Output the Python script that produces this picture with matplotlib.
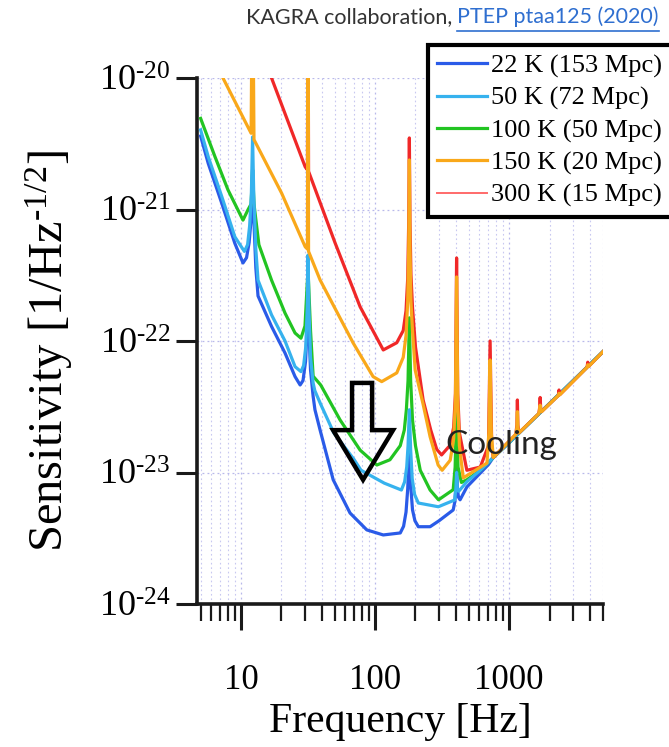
import matplotlib
matplotlib.use("Agg")
import matplotlib.pyplot as plt
from matplotlib.ticker import FixedLocator, NullLocator, FuncFormatter
from matplotlib.patches import Polygon
from matplotlib.lines import Line2D

plt.rcParams['font.family'] = ['Liberation Serif', 'DejaVu Serif']
plt.rcParams['mathtext.fontset'] = 'custom'
plt.rcParams['mathtext.rm'] = 'Liberation Serif'
plt.rcParams['mathtext.it'] = 'Liberation Serif:italic'
plt.rcParams['mathtext.bf'] = 'Liberation Serif:bold'

# ---------------- data ----------------
LABELS = ["22 K (153 Mpc)", "50 K (72 Mpc)", "100 K (50 Mpc)",
          "150 K (20 Mpc)", "300 K (15 Mpc)"]
COLORS = ["#2a5be8", "#36b2ee", "#22c422", "#f9a81a", "#f02828"]
LEGEND_COLORS = ["#2a5be8", "#36b2ee", "#22c422", "#f9a81a", "#ff6a6a"]

# common high-frequency (shot-noise) part
F_HF = [760, 1000, 2000, 5000]
H_HF = [1.3e-23, 1.69e-23, 3.35e-23, 8.3e-23]

F_22K = [5.0, 5.7, 7.2, 9.0, 10.35, 11.0, 11.5, 11.9, 12.2, 12.5, 12.9, 13.4,
         16.9, 21.3, 25.3, 27.6, 29.0, 30.3, 31.2, 31.6, 32.1, 33.0, 34.5,
         35.6, 38.9, 48.7, 65.0, 86.7, 115, 154, 163, 170, 175, 180, 185, 190,
         198, 210, 257, 300, 382, 393, 400, 405, 410, 418, 430, 483, 608, 700]
H_22K = [3.62e-21, 2.24e-21, 1.11e-21, 5.53e-22, 3.92e-22, 4.3e-22, 5.6e-22,
         8.5e-22, 2.0e-21, 8.0e-22, 3.6e-22, 2.2e-22, 1.29e-22, 8.1e-23,
         5.36e-23, 4.63e-23, 5.0e-23, 7.0e-23, 1.3e-22, 2.5e-22, 1.2e-22,
         6.0e-23, 3.8e-23, 3.0e-23, 2.1e-23, 8.8e-24, 4.92e-24, 3.66e-24,
         3.35e-24, 3.47e-24, 3.9e-24, 5.0e-24, 7.5e-24, 1.5e-23, 7.5e-24,
         5.2e-24, 4.3e-24, 3.87e-24, 3.87e-24, 4.3e-24, 5.19e-24, 6.0e-24,
         7.8e-24, 1.2e-23, 7.8e-24, 6.5e-24, 6.2e-24, 7.76e-24, 9.9e-24,
         1.15e-23]

F_50K = [5.0, 5.7, 7.2, 9.0, 10.6, 11.2, 11.6, 11.95, 12.2, 12.45, 12.9, 13.4,
         16.9, 21.3, 25.3, 28.0, 29.3, 30.4, 31.2, 31.6, 32.1, 33.0, 34.5,
         35.5, 39.3, 49.2, 69.5, 78.5, 117, 157, 166, 172, 176, 180, 184, 189,
         197, 210, 296, 392, 400, 405, 410, 420, 483, 608]
H_50K = [4.03e-21, 2.52e-21, 1.25e-21, 6.2e-22, 4.8e-22, 5.4e-22, 7.5e-22,
         1.3e-21, 3.56e-21, 1.3e-21, 5.0e-22, 2.9e-22, 1.58e-22, 1.0e-22,
         6.38e-23, 5.85e-23, 6.5e-23, 9.0e-23, 1.8e-22, 4.5e-22, 1.8e-22,
         7.5e-23, 4.8e-23, 4.2e-23, 3.3e-23, 2.0e-23, 1.26e-23, 1.04e-23,
         8.3e-24, 7.36e-24, 8.5e-24, 1.1e-23, 1.6e-23, 3.0e-23, 1.5e-23,
         9.0e-24, 6.8e-24, 5.86e-24, 5.49e-24, 6.18e-24, 7.5e-24, 1.0e-23,
         7.5e-24, 7.2e-24, 8.5e-24, 1.04e-23]

F_100K = [5.0, 6.4, 8.0, 10.35, 11.3, 11.9, 12.2, 12.5, 13.6, 16.9, 21.3,
          25.3, 28.0, 30.0, 31.6, 33.0, 34.5, 39.3, 54.8, 77.3, 103, 129, 154,
          165, 171, 176, 180, 184, 190, 200, 217, 257, 297, 382, 395, 405, 415,
          440, 483, 608]
H_100K = [4.93e-21, 2.52e-21, 1.41e-21, 8.3e-22, 1.0e-21, 1.1e-21, 2.0e-21,
          1.1e-21, 5.4e-22, 2.9e-22, 1.63e-22, 1.15e-22, 1.05e-22, 1.3e-22,
          3.5e-22, 1.2e-22, 5.4e-23, 4.63e-23, 2.51e-23, 1.48e-23, 1.14e-23,
          1.25e-23, 1.6e-23, 2.1e-23, 3.0e-23, 5.0e-23, 1.5e-22, 5.0e-23,
          2.5e-23, 1.6e-23, 1.04e-23, 7.36e-24, 6.2e-24, 7.4e-24, 1.1e-23,
          3.0e-23, 1.1e-23, 8.4e-24, 8.8e-24, 1.04e-23]

F_150K = [7.0, 11.9, 12.2, 12.5, 20.1, 30.1, 31.3, 31.6, 31.9, 38.9, 68.6,
          96.6, 112, 145, 162, 170, 175, 178, 180, 182, 185, 190, 199, 228,
          257, 295, 316, 363, 385, 397, 405, 413, 425, 454, 682, 705, 720, 735,
          760, 1120, 1140, 1150, 1160, 1180, 1660, 1685, 1700, 1715, 1740,
          2320, 2350, 2380, 3800, 3850, 3900, 5000]
H_150K = [1.1e-20, 3.8e-21, 1e-19, 3.4e-21, 1.33e-21, 5.21e-22, 5.0e-22,
          1e-19, 4.8e-22, 2.91e-22, 9.66e-23, 5.36e-23, 4.91e-23, 5.72e-23,
          7.5e-23, 1.1e-22, 2.0e-22, 5.0e-22, 2.38e-21, 5.0e-22, 2.0e-22,
          1.2e-22, 6.0e-23, 3.3e-23, 1.87e-23, 1.14e-23, 1.04e-23, 1.24e-23,
          1.8e-23, 3.5e-23, 3.07e-22, 3.5e-23, 1.6e-23, 9.1e-24, 1.18e-23,
          2.0e-23, 7.17e-23, 2.0e-23, 1.3e-23, 1.95e-23, 2.2e-23, 2.9e-23,
          2.2e-23, 2.0e-23, 2.8e-23, 3.0e-23, 3.25e-23, 3.0e-23, 2.9e-23,
          3.85e-23, 4.0e-23, 3.9e-23, 6.3e-23, 6.6e-23, 6.4e-23, 8.3e-23]

F_300K = [16.9, 30.1, 31.3, 31.6, 31.9, 50.2, 77.3, 115, 145, 162, 170, 175,
          178, 180, 182, 185, 190, 200, 228, 260, 288, 313, 360, 385, 397, 405,
          413, 425, 483, 608, 700, 720, 740, 760, 1120, 1140, 1150, 1160, 1180,
          1660, 1685, 1700, 1715, 1740, 2320, 2350, 2380, 3800, 3850, 3900,
          5000]
H_300K = [1.0e-20, 2.11e-21, 2.0e-21, 1e-19, 1.95e-21, 5.6e-22, 1.82e-22,
          8.55e-23, 9.7e-23, 1.2e-22, 1.7e-22, 3.0e-22, 8.0e-22, 3.5e-21,
          8.0e-22, 3.2e-22, 1.8e-22, 9.0e-23, 3.56e-23, 2.1e-23, 1.5e-23,
          1.36e-23, 1.6e-23, 2.2e-23, 4.0e-23, 4.28e-22, 4.0e-23, 2.0e-23,
          1.04e-23, 1.1e-23, 1.6e-23, 1.0e-22, 1.6e-23, 1.3e-23, 1.95e-23,
          2.3e-23, 3.56e-23, 2.3e-23, 2.0e-23, 2.8e-23, 3.1e-23, 3.72e-23,
          3.1e-23, 2.9e-23, 3.85e-23, 4.24e-23, 3.9e-23, 6.3e-23, 6.9e-23,
          6.4e-23, 8.3e-23]

X_TICKS = [10, 100, 1000]
X_TICKLABELS = ["10", "100", "1000"]
Y_TICKS = [1e-24, 1e-23, 1e-22, 1e-21, 1e-20]
Y_EXPONENTS = [-24, -23, -22, -21, -20]

# "Cooling" arrow outline (frequency, sensitivity)
ARROW_F = [67.3, 67.3, 48.6, 81.3, 136.0, 95.0, 95.0]
ARROW_H = [4.8e-23, 2.1e-23, 2.1e-23, 8.8e-24, 2.1e-23, 2.1e-23, 4.8e-23]

# ---------------- figure ----------------
fig = plt.figure(figsize=(6.69, 7.47), dpi=100)
ax = fig.add_axes([197 / 669, 1 - 604 / 747, 406 / 669, 526 / 747])
ax.set_xscale('log')
ax.set_yscale('log')
ax.set_xlim(4.7, 5000)
ax.set_ylim(1e-24, 1e-20)

series = {
    0: (F_22K + F_HF, H_22K + H_HF),
    1: (F_50K + F_HF, H_50K + H_HF),
    2: (F_100K + F_HF, H_100K + H_HF),
    3: (F_150K, H_150K),
    4: (F_300K, H_300K),
}
order = [0, 2, 1, 4, 3]
for k, idx in enumerate(order):
    f, h = series[idx]
    ax.plot(f, h, color=COLORS[idx], lw=2.3, zorder=3 + k)

# grid
ax.grid(True, which='major', axis='both', color='#b8b8ea', ls=(0, (1.5, 2.5)), lw=0.9)
ax.grid(True, which='minor', axis='x', color='#c8c8f0', ls=(0, (1.5, 2.5)), lw=0.8)
ax.set_axisbelow(True)

for s in ['top', 'right']:
    ax.spines[s].set_visible(False)
for s in ['left', 'bottom']:
    ax.spines[s].set_linewidth(2.6)
    ax.spines[s].set_color('#1a1a1a')

ax.xaxis.set_major_locator(FixedLocator(X_TICKS))
ax.xaxis.set_major_formatter(FuncFormatter(
    lambda v, p: X_TICKLABELS[X_TICKS.index(round(v))] if round(v) in X_TICKS else ""))
minors = [m * d for d in [1, 10, 100, 1000] for m in range(2, 10) if 4.7 <= m * d <= 5000]
ax.xaxis.set_minor_locator(FixedLocator(minors))
ax.xaxis.set_minor_formatter(FuncFormatter(lambda v, p: ""))
ax.yaxis.set_major_locator(FixedLocator(Y_TICKS))
ax.yaxis.set_major_formatter(FuncFormatter(
    lambda v, p: r"$\mathregular{10^{\text{-}%d}}$" % abs(Y_EXPONENTS[p])
    if p is not None and p < len(Y_EXPONENTS) else ""))
ax.yaxis.set_minor_locator(NullLocator())

ax.tick_params(axis='x', which='major', direction='out', length=19, width=2.2,
               labelsize=25, pad=24, color='#1a1a1a')
ax.tick_params(axis='x', which='minor', direction='out', length=12, width=1.6,
               color='#1a1a1a')
ax.tick_params(axis='y', which='major', direction='out', length=15, width=2.2,
               labelsize=26, pad=4, color='#1a1a1a')

ax.set_xlabel("Frequency [Hz]", fontsize=30, labelpad=4)
ax.set_ylabel(r"Sensitivity [1/Hz$^{\mathregular{\text{-}1/2}}$]", fontsize=35)
ax.yaxis.set_label_coords((75 - 197) / 406, (604 - 351) / 526)

# arrow + annotation
arrow = Polygon(list(zip(ARROW_F, ARROW_H)), closed=True, fill=False,
                edgecolor='black', lw=3.2, joinstyle='miter', zorder=10)
ax.add_patch(arrow)
ax.text(333, 1.62e-23, "Cooling", fontsize=24, family=['Lato', 'DejaVu Sans'],
        color='#222222', va='center', ha='left', zorder=11)

# legend
proxies = [Line2D([], [], color=LEGEND_COLORS[i], lw=(2.3 if i < 4 else 1.4)) for i in range(5)]
leg = fig.legend(proxies, LABELS,
                 loc='upper left', bbox_to_anchor=(428 / 669, 1 - 45 / 747),
                 fontsize=19, frameon=True, fancybox=False, framealpha=1,
                 edgecolor='black', handlelength=1.9, handletextpad=0.15,
                 labelspacing=0.32, borderpad=0.35, borderaxespad=0.0)
leg.get_frame().set_linewidth(3)

# source line
t1 = fig.text(246 / 669, 1 - 17 / 747, "KAGRA collaboration,", fontsize=15.5,
              family=['Lato', 'DejaVu Sans'], color='#333333', va='center', ha='left')
fig.canvas.draw()
b1 = t1.get_window_extent()
t2 = fig.text((b1.x1 + 5) / fig.bbox.width, 1 - 17 / 747, "PTEP ptaa125 (2020)",
              fontsize=15.5, family=['Lato', 'DejaVu Sans'], color='#2f6fd0',
              va='center', ha='left')
fig.canvas.draw()
b2 = t2.get_window_extent()
fig.add_artist(Line2D([b2.x0 / fig.bbox.width, b2.x1 / fig.bbox.width],
                      [1 - 31 / 747, 1 - 31 / 747], transform=fig.transFigure,
                      color='#2f6fd0', lw=1.2))

fig.savefig("out.png", dpi=100)
